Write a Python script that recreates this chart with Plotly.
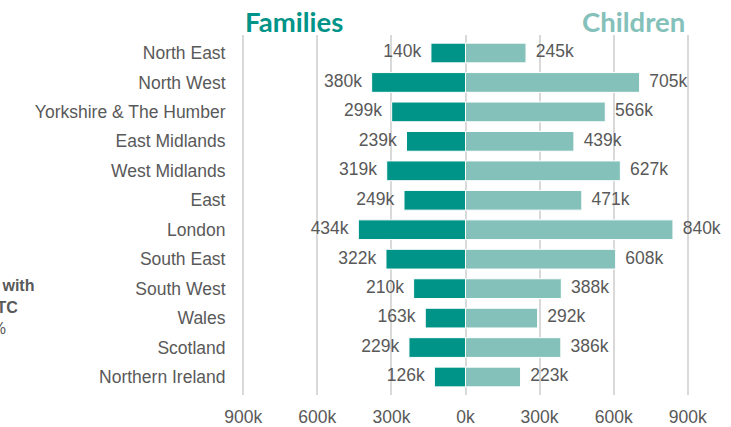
import plotly.graph_objects as go

regions = ["North East", "North West", "Yorkshire & The Humber", "East Midlands",
           "West Midlands", "East", "London", "South East", "South West",
           "Wales", "Scotland", "Northern Ireland"]
families = [140, 380, 299, 239, 319, 249, 434, 322, 210, 163, 229, 126]   # thousands
children = [245, 705, 566, 439, 627, 471, 840, 608, 388, 292, 386, 223]   # thousands

tick_vals = [-900, -600, -300, 0, 300, 600, 900]
tick_text = ["900k", "600k", "300k", "0k", "300k", "600k", "900k"]

FAM_COL = "#009488"
CHI_COL = "#84c1ba"
GREY = "#595959"
FONT = "Liberation Sans, Arial"
SIZE = 17.5
pad = "\u00a0\u00a0"

fig = go.Figure()

# families drawn to the left of zero
fig.add_trace(go.Bar(
    y=regions, x=[-v for v in families], orientation="h",
    marker=dict(color=FAM_COL, line=dict(color="white", width=1)),
    hoverinfo="skip",
))
fig.add_trace(go.Bar(
    y=regions, x=children, orientation="h",
    marker=dict(color=CHI_COL, line=dict(color="white", width=1)),
    hoverinfo="skip",
))

# value labels
fig.add_trace(go.Scatter(
    y=regions, x=[-v for v in families], mode="text",
    text=[f"{v}k{pad}" for v in families], textposition="middle left",
    textfont=dict(family=FONT, size=SIZE, color=GREY),
    cliponaxis=False, hoverinfo="skip",
))
fig.add_trace(go.Scatter(
    y=regions, x=children, mode="text",
    text=[f"{pad}{v}k" for v in children], textposition="middle right",
    textfont=dict(family=FONT, size=SIZE, color=GREY),
    cliponaxis=False, hoverinfo="skip",
))

fig.add_annotation(text="<b>Families</b>", xref="paper", yref="paper", x=0.117, y=1,
                   xanchor="center", yanchor="middle", yshift=14, showarrow=False,
                   font=dict(family="Lato", size=27.5, color=FAM_COL))
fig.add_annotation(text="<b>Children</b>", xref="paper", yref="paper", x=0.876, y=1,
                   xanchor="center", yanchor="middle", yshift=14, showarrow=False,
                   font=dict(family="Lato", size=27.5, color=CHI_COL))

# text box that sits mostly off the left edge of the canvas
side_font = dict(family=FONT, size=16, color=GREY)
fig.add_annotation(text="<b>Families with</b>", xref="paper", yref="paper", x=0, xshift=-206,
                   y=1, yshift=-250, xanchor="right", yanchor="middle", showarrow=False, font=side_font)
fig.add_annotation(text="<b>CTC</b>", xref="paper", yref="paper", x=0, xshift=-222,
                   y=1, yshift=-272, xanchor="right", yanchor="middle", showarrow=False, font=side_font)
fig.add_annotation(text="12%", xref="paper", yref="paper", x=0, xshift=-234,
                   y=1, yshift=-293, xanchor="right", yanchor="middle", showarrow=False, font=side_font)

fig.update_layout(
    width=731, height=427,
    margin=dict(l=242, r=42, t=35, b=32),
    paper_bgcolor="white", plot_bgcolor="white",
    barmode="relative", bargap=0.33, showlegend=False,
    font=dict(family=FONT, size=SIZE, color=GREY),
    xaxis=dict(range=[-905, 905], tickvals=tick_vals, ticktext=tick_text,
               showgrid=True, gridcolor="#d9d9d9", gridwidth=2, zeroline=False,
               ticks="outside", ticklen=6, tickcolor="rgba(0,0,0,0)",
               tickfont=dict(size=SIZE, color=GREY), fixedrange=True, automargin=False),
    yaxis=dict(autorange="reversed", showgrid=False, zeroline=False,
               ticks="outside", ticklen=12, tickcolor="rgba(0,0,0,0)",
               tickfont=dict(size=SIZE, color=GREY), fixedrange=True, automargin=False),
)

# drop the page's default 8px body margin so the figure sits at the window corner
fig.write_html("out.html", config={"displayModeBar": False},
               post_script="document.body.style.margin='0';")
